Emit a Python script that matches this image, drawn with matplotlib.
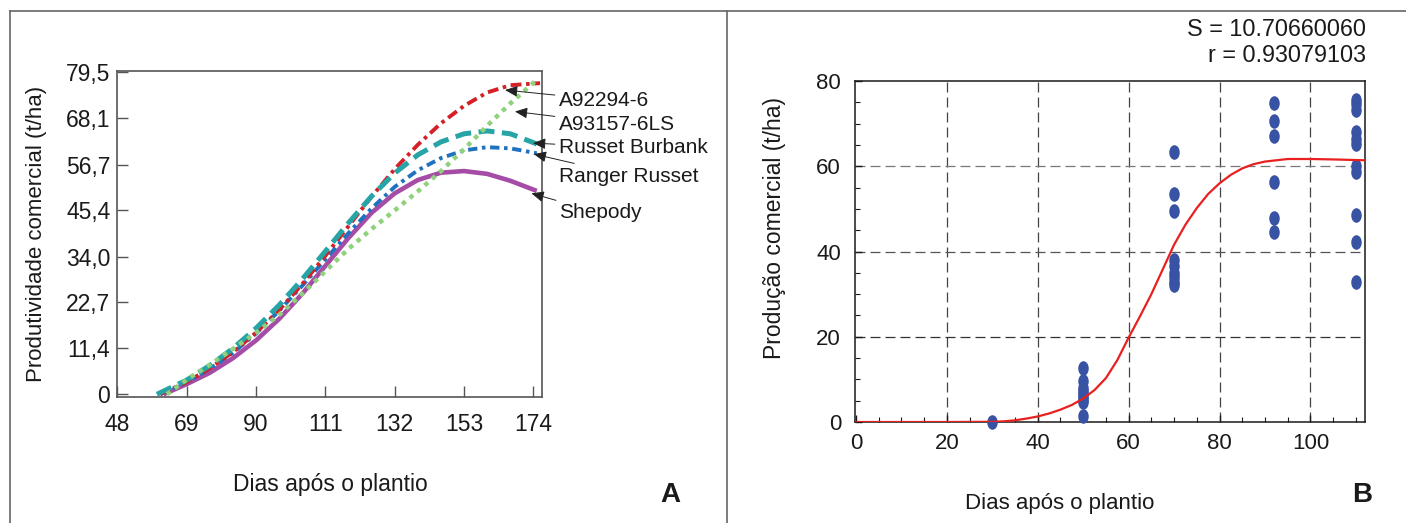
import matplotlib
matplotlib.use("Agg")
import matplotlib.pyplot as plt
from matplotlib.lines import Line2D
from matplotlib.path import Path
from matplotlib.transforms import Affine2D

plt.rcParams['font.family'] = ['Liberation Sans', 'DejaVu Sans']

# ---------------- Panel A data ----------------
cultivars = ["A92294-6", "A93157-6LS", "Russet Burbank", "Ranger Russet", "Shepody"]
days_a92294 = [61, 69, 76, 83, 90, 97, 104, 111, 118, 125, 132, 139, 146, 153, 160, 167, 176]
yield_a92294 = [0, 3.0, 6.4, 10.4, 15.2, 20.8, 27.2, 34.2, 41.5, 48.8, 55.6, 61.6, 66.9, 71.2, 74.5, 76.3, 76.8]
days_a93157 = [63, 69, 76, 83, 90, 97, 104, 111, 118, 125, 132, 139, 146, 153, 160, 167, 175]
yield_a93157 = [0, 3.6, 7.3, 11.2, 15.2, 19.6, 24.8, 30.4, 35.9, 40.8, 45.4, 50.1, 55.1, 60.5, 66.3, 71.8, 77.6]
days_burbank = [60, 69, 76, 83, 90, 97, 104, 111, 118, 125, 132, 139, 146, 153, 160, 167, 175]
yield_burbank = [0, 3.5, 7.1, 11.3, 16.3, 22.0, 28.4, 35.3, 42.3, 48.9, 54.6, 59.1, 62.3, 64.3, 65.0, 64.3, 61.8]
days_ranger = [61, 69, 76, 83, 90, 97, 104, 111, 118, 125, 132, 139, 146, 153, 160, 167, 175]
yield_ranger = [0, 3.0, 6.3, 10.2, 15.0, 20.6, 26.8, 33.3, 39.8, 45.9, 51.2, 55.3, 58.3, 60.2, 61.0, 60.7, 59.5]
days_shepody = [62, 69, 76, 83, 90, 97, 104, 111, 118, 125, 132, 139, 146, 153, 160, 167, 175]
yield_shepody = [0, 2.5, 5.3, 8.9, 13.3, 18.6, 24.8, 31.7, 38.6, 44.8, 49.6, 52.9, 54.7, 55.1, 54.4, 52.7, 50.2]

a_xticks = [48, 69, 90, 111, 132, 153, 174]
a_yticks = [0, 11.4, 22.7, 34.0, 45.4, 56.7, 68.1, 79.5]
a_yticklabels = ["0", "11,4", "22,7", "34,0", "45,4", "56,7", "68,1", "79,5"]

# ---------------- Panel B data ----------------
obs_x = ([30] + [50] * 9 + [70] * 9 + [92] * 6 + [110] * 11)
obs_y = ([0.0]
         + [12.6, 9.6, 8.0, 7.3, 6.6, 5.9, 5.2, 4.6, 1.4]
         + [63.3, 53.5, 49.4, 38.1, 36.5, 35.0, 34.0, 32.8, 32.2]
         + [74.8, 70.7, 67.0, 56.3, 47.9, 44.6]
         + [75.5, 74.5, 73.3, 68.0, 66.5, 65.3, 60.0, 58.6, 48.6, 42.3, 32.8])
fit_x = [0, 10, 20, 30, 32.5, 35, 37.5, 40, 42.5, 45, 47.5, 50, 52.5, 55, 57.5, 60, 62.5, 65,
         67.5, 70, 72.5, 75, 77.5, 80, 82.5, 85, 87.5, 90, 95, 100, 105, 112]
fit_y = [0, 0, 0, 0.05, 0.15, 0.4, 0.8, 1.3, 2.0, 2.9, 4.0, 5.5, 7.5, 10.3, 14.5, 19.8, 24.8, 30.0,
         35.8, 41.6, 46.3, 50.2, 53.5, 56.0, 58.0, 59.5, 60.5, 61.1, 61.7, 61.7, 61.6, 61.4]
stat_s = "S = 10.70660060"
stat_r = "r = 0.93079103"

W, H = 1406, 523
fig = plt.figure(figsize=(W / 100, H / 100), dpi=100)

# ---------------- Panel A ----------------
axA = fig.add_axes([117.3 / W, 1 - 396.7 / H, 424.4 / W, 325.7 / H])
styles = [
    (days_a92294, yield_a92294, dict(color='#d42027', lw=2.8, ls=(0, (2.8, 1.2, 0.9, 1.2)))),
    (days_a93157, yield_a93157, dict(color='#8fd17c', lw=3.2, ls=(0, (1.0, 1.2)))),
    (days_burbank, yield_burbank, dict(color='#26a4a6', lw=3.6, ls=(0, (3.2, 1.5)))),
    (days_ranger, yield_ranger, dict(color='#1f72c0', lw=2.8, ls=(0, (2.4, 1.2, 0.9, 1.2)))),
    (days_shepody, yield_shepody, dict(color='#a64ca6', lw=3.3, ls='-')),
]
for xs, ys, kw in [styles[4], styles[3], styles[0], styles[2], styles[1]]:
    axA.plot(xs, ys, solid_capstyle='butt', dash_capstyle='butt',
             solid_joinstyle='round', **kw)

axA.set_xlim(48, 176.5)
axA.set_ylim(-0.6, 79.8)
axA.set_xticks(a_xticks)
axA.set_yticks(a_yticks)
axA.set_yticklabels(a_yticklabels)
axA.tick_params(direction='in', length=8, width=1, colors='#555555', labelcolor='#1a1a1a',
                labelsize=16.5)
axA.tick_params(axis='x', pad=12)
axA.tick_params(axis='y', pad=5)
for s in axA.spines.values():
    s.set_color('#555555')
    s.set_linewidth(1.2)

ann_tips = [(165.4, 75.1), (168.4, 69.8), (173.9, 62.0), (174.1, 59.3), (173.4, 49.6)]
ann_text_y = [100, 124, 148, 176, 213]
for name, tip, ty in zip(cultivars, ann_tips, ann_text_y):
    axA.annotate(name, xy=tip, xycoords='data',
                 xytext=(559 / W, 1 - ty / H), textcoords='figure fraction',
                 ha='left', va='center', fontsize=15, color='#1a1a1a',
                 arrowprops=dict(arrowstyle='-|>,head_length=0.5,head_width=0.22',
                                 color='#222222', lw=0.7, shrinkA=1, shrinkB=0))

fig.text(37 / W, 1 - 234 / H, "Produtividade comercial (t/ha)", rotation=90,
         ha='center', va='center', fontsize=16, color='#1a1a1a')
fig.text(330 / W, 1 - 485 / H, "Dias após o plantio", ha='center', va='center',
         fontsize=16.5, color='#1a1a1a')
fig.text(670 / W, 1 - 495 / H, "A", ha='center', va='center', fontsize=20,
         fontweight='bold', color='#1a1a1a')

# ---------------- Panel B ----------------
axB = fig.add_axes([855 / W, 1 - 422 / H, 510 / W, 341 / H])
for gx in [20, 40, 60, 80, 100]:
    axB.axvline(gx, color='#444444', lw=0.9, ls=(0, (8, 4)), zorder=1)
for gy, c in [(20, '#333333'), (40, '#555555'), (60, '#777777')]:
    axB.axhline(gy, color=c, lw=0.9, ls=(0, (8, 4)), zorder=1)

ellipse = Path.unit_circle().transformed(Affine2D().scale(0.72, 1.0))
axB.plot(obs_x, obs_y, ls='none', marker=ellipse, ms=10.5, color='#3953a4',
         mec='none', zorder=3, clip_on=False)
axB.plot(fit_x, fit_y, color='#e8201f', lw=1.6, zorder=4, solid_joinstyle='round')

axB.set_xlim(-0.2, 112)
axB.set_ylim(0, 80)
axB.set_xticks([0, 20, 40, 60, 80, 100])
axB.set_yticks([0, 20, 40, 60, 80])
axB.set_xticks(range(0, 112, 5), minor=True)
axB.set_yticks(range(0, 81, 5), minor=True)
axB.tick_params(which='major', direction='in', length=5, width=1, colors='#1a1a1a',
                labelsize=16)
axB.tick_params(which='minor', direction='in', length=3.5, width=0.8, colors='#1a1a1a')
axB.tick_params(axis='x', which='major', pad=8)
axB.tick_params(axis='y', which='major', pad=10)
for s in axB.spines.values():
    s.set_color('#1a1a1a')
    s.set_linewidth(1.1)

fig.text(1366 / W, 1 - 30 / H, stat_s, ha='right', va='center', fontsize=16.8,
         color='#1a1a1a')
fig.text(1366 / W, 1 - 56 / H, stat_r, ha='right', va='center', fontsize=16.8,
         color='#1a1a1a')
fig.text(775 / W, 1 - 228 / H, "Produção comercial (t/ha)", rotation=90,
         ha='center', va='center', fontsize=16.5, color='#1a1a1a')
fig.text(1060 / W, 1 - 503 / H, "Dias após o plantio", ha='center', va='center',
         fontsize=16, color='#1a1a1a')
fig.text(1362 / W, 1 - 495 / H, "B", ha='center', va='center', fontsize=20,
         fontweight='bold', color='#1a1a1a')

# ---------------- panel frames ----------------
fc = '#666666'
fig.add_artist(Line2D([10 / W, 1], [1 - 11 / H, 1 - 11 / H], color=fc, lw=1.2))
fig.add_artist(Line2D([10 / W, 10 / W], [0, 1 - 11 / H], color=fc, lw=1.2))
fig.add_artist(Line2D([727 / W, 727 / W], [0, 1 - 11 / H], color=fc, lw=1.2))

fig.savefig("out.png", dpi=100)
